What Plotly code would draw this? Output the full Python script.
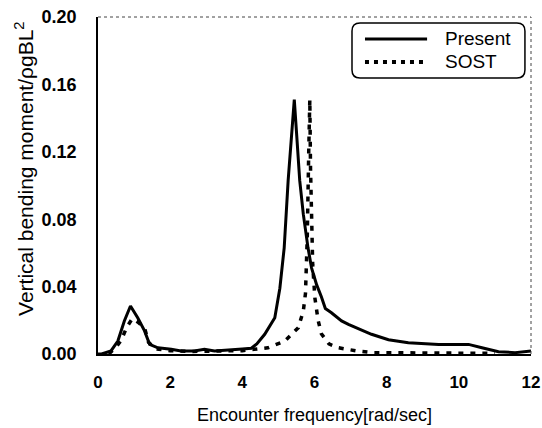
import plotly.graph_objects as go

# Present (solid)
present_x = [0.0, 0.1, 0.36, 0.55, 0.73, 0.9, 1.1, 1.29, 1.43, 1.66, 2.03, 2.3, 2.67, 2.95, 3.23, 3.7, 4.0, 4.25,
             4.4, 4.62, 4.9, 5.04, 5.16, 5.27, 5.36, 5.44, 5.5, 5.59, 5.69, 5.82, 5.92, 6.06, 6.19, 6.3, 6.47,
             6.75, 6.94, 7.58, 8.05, 8.6, 9.44, 10.27, 10.64, 11.1, 11.56, 12.0]
present_y = [0.0, 0.0, 0.0018, 0.0077, 0.0196, 0.0285, 0.0215, 0.0137, 0.0057, 0.0037, 0.0028, 0.0018, 0.0018, 0.0028,
             0.0018, 0.0028, 0.003, 0.0034, 0.006, 0.0117, 0.0215, 0.039, 0.063, 0.103, 0.132, 0.151, 0.132, 0.103,
             0.083, 0.063, 0.051, 0.041, 0.034, 0.027, 0.0245, 0.0196, 0.0176, 0.0117, 0.0085, 0.0067, 0.0057,
             0.0057, 0.0037, 0.0014, 0.0008, 0.0018]

# SOST (dotted)
sost_x = [0.3, 0.5, 0.64, 0.8, 0.95, 1.1, 1.29, 1.4, 1.6, 2.0, 2.5, 3.0, 3.5, 4.0, 4.71, 5.18, 5.55, 5.69, 5.75,
          5.8, 5.84, 5.87, 5.89, 5.92, 5.95, 6.01, 6.1, 6.19, 6.4, 6.66, 7.17, 7.63, 8.5, 9.5, 10.5, 11.0]
sost_y = [0.0, 0.004, 0.008, 0.016, 0.021, 0.019, 0.0156, 0.007, 0.003, 0.002, 0.0015, 0.0015, 0.0015, 0.002,
          0.0037, 0.0077, 0.0156, 0.0255, 0.036, 0.07, 0.12, 0.151, 0.11, 0.075, 0.053, 0.0334, 0.02, 0.012,
          0.006, 0.0037, 0.0018, 0.0008, 0.0006, 0.0005, 0.0005, 0.0004]

series_names = ["Present", "SOST"]
x_ticks = [0, 2, 4, 6, 8, 10, 12]
y_ticks = [0.00, 0.04, 0.08, 0.12, 0.16, 0.20]
x_title = "Encounter frequency[rad/sec]"
y_title = "Vertical bending moment/ρgBL<sup>2</sup>"

FONT = "Liberation Sans, Arial, sans-serif"

fig = go.Figure()
fig.add_trace(go.Scatter(x=present_x, y=present_y, mode="lines", name=series_names[0],
                         line=dict(color="black", width=3), showlegend=False))
fig.add_trace(go.Scatter(x=sost_x, y=sost_y, mode="lines", name=series_names[1],
                         line=dict(color="black", width=3.5, dash="5px,7px"), showlegend=False))

fig.update_layout(
    width=542, height=428,
    margin=dict(l=98, r=11, t=17, b=74),
    paper_bgcolor="white", plot_bgcolor="white",
    font=dict(family=FONT, color="black", size=17),
    showlegend=False,
    xaxis=dict(range=[0, 12], tickvals=x_ticks, ticktext=[str(v) for v in x_ticks],
               showgrid=False, zeroline=False, showline=True, linecolor="black", linewidth=1.5,
               ticks="", ticklabelstandoff=12, ticklabeloverflow="allow", automargin=False,
               tickfont=dict(size=17, weight="bold"),
               title=dict(text=x_title, font=dict(size=18), standoff=17)),
    yaxis=dict(range=[0, 0.20], tickvals=y_ticks, ticktext=["%.2f" % v for v in y_ticks],
               showgrid=False, zeroline=False, showline=True, linecolor="black", linewidth=1.5,
               ticks="", ticklabelstandoff=16, ticklabeloverflow="allow", automargin=False,
               tickfont=dict(size=18, weight="bold")),
)
# y-axis title (placed as rotated text, slightly above the axis centre as in the reference)
fig.add_annotation(xref="paper", yref="paper", x=-0.171, y=0.549, text=y_title, textangle=-90,
                   showarrow=False, xanchor="center", yanchor="middle",
                   font=dict(size=21, family=FONT, color="black"))

# faint dotted top and right frame
fig.add_shape(type="line", xref="paper", yref="paper", x0=0, x1=1, y0=1, y1=1,
              line=dict(color="#444", width=1, dash="dot"))
fig.add_shape(type="line", xref="paper", yref="paper", x0=1, x1=1, y0=0, y1=1,
              line=dict(color="#444", width=1, dash="dot"))

# legend box with rounded corners (paper coordinates)
bx0, bx1, by0, by1 = 0.5866, 0.986, 0.819, 0.982
rx, ry = 0.0185, 0.0237
path = (f"M {bx0+rx},{by1} L {bx1-rx},{by1} Q {bx1},{by1} {bx1},{by1-ry} "
        f"L {bx1},{by0+ry} Q {bx1},{by0} {bx1-rx},{by0} L {bx0+rx},{by0} "
        f"Q {bx0},{by0} {bx0},{by0+ry} L {bx0},{by1-ry} Q {bx0},{by1} {bx0+rx},{by1} Z")
fig.add_shape(type="path", xref="paper", yref="paper", path=path,
              line=dict(color="black", width=1.5), fillcolor="white", layer="above")
legend_rows = [0.935, 0.8665]
styles = [dict(color="black", width=3), dict(color="black", width=4, dash="4px,5px")]
for name, yy, st in zip(series_names, legend_rows, styles):
    fig.add_shape(type="line", xref="paper", yref="paper", x0=0.6166, x1=0.760, y0=yy, y1=yy,
                  line=st, layer="above")
    fig.add_annotation(xref="paper", yref="paper", x=0.797, y=yy, text=name, showarrow=False,
                       xanchor="left", yanchor="middle", font=dict(size=19, family=FONT, color="black"))

# remove the browser's default 8px page margin so the 542x428 figure fills the window exactly
fig.write_html("out.html", config={"displayModeBar": False},
               post_script="document.body.style.margin='0px';")
